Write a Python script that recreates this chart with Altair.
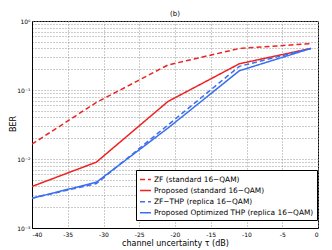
import altair as alt
import pandas as pd

tau = [-40, -31, -21, -11, -1]
zf_std = [0.0164, 0.066, 0.23, 0.40, 0.47]
prop_std = [0.0040, 0.0090, 0.068, 0.24, 0.40]
zfthp_rep = [0.0027, 0.0044, 0.031, 0.22, 0.40]
prop_thp_rep = [0.0027, 0.0046, 0.028, 0.19, 0.40]

names = [
    "ZF (standard 16\u2212QAM)",
    "Proposed (standard 16\u2212QAM)",
    "ZF\u2212THP (replica 16\u2212QAM)",
    "Proposed Optimized THP (replica 16\u2212QAM)",
]
series = [zf_std, prop_std, zfthp_rep, prop_thp_rep]
colors = ["#ee2222", "#ee2222", "#3b6ff0", "#3b6ff0"]
dashes = [[5, 3], [1, 0], [5, 3], [1, 0]]

rows = []
for n, s in zip(names, series):
    for t, v in zip(tau, s):
        rows.append({"tau": t, "ber": v, "series": n})
df = pd.DataFrame(rows)

yticks = []
for e in [-3, -2, -1]:
    for m in range(1, 10):
        yticks.append(round(m * 10 ** e, 6))
yticks.append(1)

xticks = [-40, -35, -30, -25, -20, -15, -10, -5, 0]

label_expr = ("datum.value == 1 ? '10\u2070' : datum.value == 0.1 ? '10\u207b\u00b9' : "
              "datum.value == 0.01 ? '10\u207b\u00b2' : datum.value == 0.001 ? '10\u207b\u00b3' : ''")

lines = alt.Chart(df).mark_line(strokeWidth=1.5, clip=True).encode(
    x=alt.X("tau:Q", scale=alt.Scale(domain=[-40, 0], nice=False),
            axis=alt.Axis(values=xticks, title="channel uncertainty \u03c4 (dB)",
                          labelExpr="replace(datum.label, '\u2212', '-')",
                          grid=True, gridDash=[1, 2], gridColor="#999999",
                          labelFontSize=6, titleFontSize=8, titlePadding=2,
                          tickSize=0, labelPadding=3, domainColor="black",
                          labelFont="DejaVu Sans", titleFont="DejaVu Sans",
                          labelColor="black", titleColor="black", titleFontWeight="normal")),
    y=alt.Y("ber:Q", scale=alt.Scale(type="log", domain=[0.001, 1], nice=False),
            axis=alt.Axis(values=yticks, title=None, labelExpr=label_expr,
                          grid=True, gridDash=[1, 2], gridColor="#999999",
                          labelFontSize=6, tickSize=0, labelPadding=2, domainColor="black",
                          labelFont="DejaVu Sans", labelColor="black")),
    color=alt.Color("series:N", scale=alt.Scale(domain=names, range=colors),
                    legend=alt.Legend(title=None, orient="none", legendX=104, legendY=149,
                                      strokeColor="black", fillColor="white",
                                      padding=3, labelFontSize=7.4, labelFont="DejaVu Sans",
                                      symbolType="stroke", symbolSize=120, symbolStrokeWidth=1.5,
                                      rowPadding=1.1, labelLimit=300, labelOffset=2,
                                      labelColor="black")),
    strokeDash=alt.StrokeDash("series:N", scale=alt.Scale(domain=names, range=dashes), legend=None),
    order=alt.Order("tau:Q"),
)

ytitle = alt.Chart(pd.DataFrame({"t": ["BER"]})).mark_text(
    angle=270, fontSize=8, font="DejaVu Sans", color="black", align="center", baseline="middle"
).encode(text="t:N", x=alt.value(-18), y=alt.value(103))

chart = alt.layer(lines, ytitle).properties(
    width=286, height=207,
    title=alt.TitleParams("(b)", fontSize=7, fontWeight="normal", font="DejaVu Sans", offset=1),
    autosize=alt.AutoSizeParams(type="none"),
    padding={"left": 24, "top": 13, "right": 6, "bottom": 22},
).configure_view(stroke="black", strokeWidth=1)

chart.save("out.html", embed_options={"renderer": "svg", "actions": False})
